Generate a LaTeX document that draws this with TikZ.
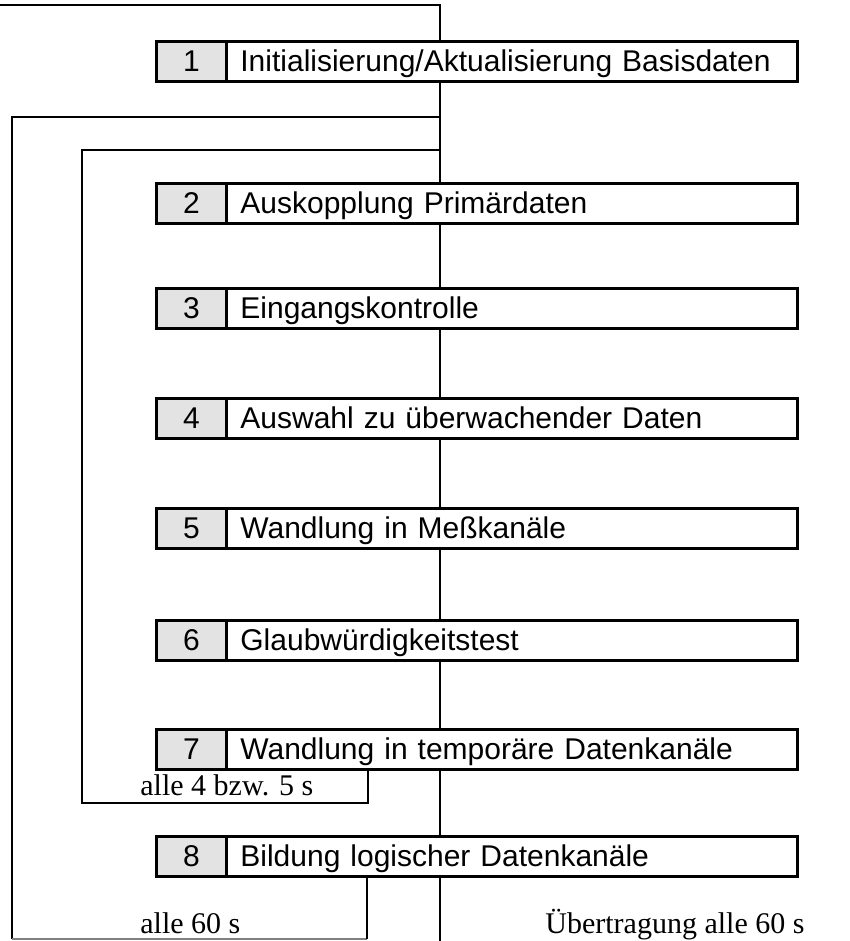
\documentclass[tikz,border=0pt]{standalone}
\usepackage{fontspec}
\setmainfont{Liberation Serif}
\newfontfamily\arialfont{Liberation Sans}

\begin{document}
\begin{tikzpicture}[x=0.5pt,y=-0.5pt,
  numcell/.style={draw,line width=1.4pt,fill=gray!22,anchor=north west,minimum width=35pt,minimum height=20pt,inner sep=0pt,text height=11pt,text depth=0.5pt,font=\arialfont\fontsize{15}{18}\selectfont},
  taskbox/.style={draw,line width=1.4pt,fill=white,anchor=north west,minimum width=285.5pt,minimum height=20pt,inner xsep=7pt,inner ysep=0pt,text width=271.5pt,text height=11pt,text depth=0.5pt,align=left,font=\arialfont\fontsize{15}{18}\selectfont},
  looplabel/.style={anchor=base west,inner sep=0pt,font=\fontsize{15}{18}\selectfont},
  loopline/.style={line width=0.7pt}]
  \useasboundingbox (0,0) rectangle (850,941);
  \coordinate (top) at (440,5);
  \coordinate (bot) at (440,941);
  \coordinate (outer) at (440,117);
  \coordinate (inner) at (440,150);
  \draw[loopline] (0,5) -- (top) -- (bot);
  \node[numcell] (n1) at (155,40) {1};
  \node[taskbox] (t1) at (225,40) {Initialisierung/Aktualisierung Basisdaten};
  \node[numcell] (n2) at (155,182) {2};
  \node[taskbox] (t2) at (225,182) {Auskopplung Primärdaten};
  \node[numcell] (n3) at (155,287) {3};
  \node[taskbox] (t3) at (225,287) {Eingangskontrolle};
  \node[numcell] (n4) at (155,397) {4};
  \node[taskbox] (t4) at (225,397) {Auswahl zu überwachender Daten};
  \node[numcell] (n5) at (155,507) {5};
  \node[taskbox] (t5) at (225,507) {Wandlung in Meßkanäle};
  \node[numcell] (n6) at (155,619) {6};
  \node[taskbox] (t6) at (225,619) {Glaubwürdigkeitstest};
  \node[numcell] (n7) at (155,728) {7};
  \node[taskbox] (t7) at (225,728) {Wandlung in temporäre Datenkanäle};
  \node[numcell] (n8) at (155,835) {8};
  \node[taskbox] (t8) at (225,835) {Bildung logischer Datenkanäle};
  % Schleifen
  \draw[loopline] (inner) -| (82,803) -| ([xshift=71.5pt]t7.south west);
  \draw[loopline] (outer) -| (12,939);
  \draw[loopline,gray] (12,939) -- (367,939);
  \draw[loopline] (367,939) -- ([xshift=71pt]t8.south west);
  \node[looplabel] (l45) at (140,795) {alle 4 bzw. 5 s};
  \node[looplabel] (l60) at (140,933) {alle 60 s};
  \node[looplabel] (ltx) at (545,933) {Übertragung alle 60 s};
\end{tikzpicture}
\end{document}
